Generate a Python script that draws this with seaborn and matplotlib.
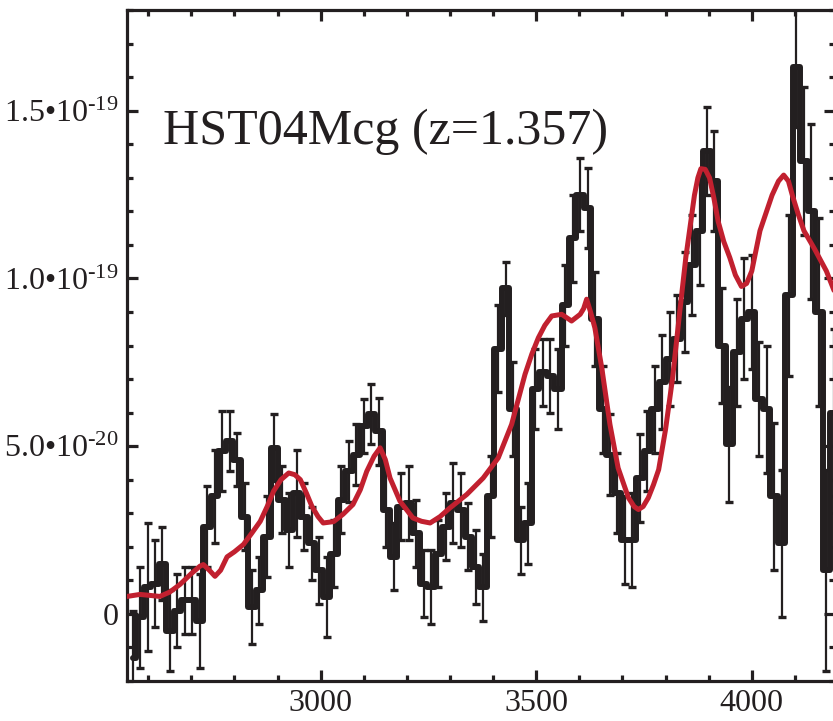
import numpy as np
import pandas as pd
import matplotlib
matplotlib.use("Agg")
import matplotlib.pyplot as plt
import seaborn as sns
from matplotlib.ticker import FixedLocator, MultipleLocator

# ---------------- data (flux in units of 1e-20) ----------------
wave = [2564.0, 2581.3, 2598.6, 2615.9, 2633.2, 2650.5, 2667.8, 2685.1, 2702.4, 2719.7,
        2737.0, 2754.3, 2771.6, 2788.9, 2806.2, 2823.5, 2840.8, 2858.1, 2875.4, 2892.7,
        2910.0, 2927.3, 2944.6, 2961.9, 2979.2, 2996.5, 3013.8, 3031.1, 3048.4, 3065.7,
        3083.0, 3100.3, 3117.6, 3134.9, 3152.2, 3169.5, 3186.8, 3204.1, 3221.4, 3238.7,
        3256.0, 3273.3, 3290.6, 3307.9, 3325.2, 3342.5, 3359.8, 3377.1, 3394.4, 3411.7,
        3429.0, 3446.3, 3463.6, 3480.9, 3498.2, 3515.5, 3532.8, 3550.1, 3567.4, 3584.7,
        3602.0, 3619.3, 3636.6, 3653.9, 3671.2, 3688.5, 3705.8, 3723.1, 3740.4, 3757.7,
        3775.0, 3792.3, 3809.6, 3826.9, 3844.2, 3861.5, 3878.8, 3896.1, 3913.4, 3930.7,
        3948.0, 3965.3, 3982.6, 3999.9, 4017.2, 4034.5, 4051.8, 4069.1, 4086.4, 4103.7,
        4121.0, 4138.3, 4155.6, 4172.9, 4190.2]

flux = [-1.3, -0.1, 0.8, 0.9, 1.5, -0.5, 0.1, 0.4, 0.4, -0.2,
        2.6, 3.5, 4.85, 5.15, 4.6, 2.9, 0.2, 0.7, 2.3, 4.95,
        3.4, 2.5, 3.6, 2.9, 2.1, 1.3, 0.5, 1.8, 3.4, 4.25,
        4.75, 5.6, 5.95, 5.45, 3.1, 1.7, 3.2, 3.3, 2.4, 0.9,
        0.8, 1.8, 2.6, 3.3, 3.1, 2.3, 1.4, 0.8, 3.5, 7.9,
        9.7, 6.1, 2.2, 2.7, 6.7, 7.2, 7.1, 6.7, 9.2, 11.2,
        12.5, 12.1, 8.8, 6.1, 4.75, 3.6, 2.2, 2.2, 4.05, 4.85,
        6.1, 6.9, 7.6, 8.2, 9.3, 10.4, 11.4, 13.8, 12.9, 8.0,
        5.05, 7.8, 8.8, 9.0, 6.4, 6.1, 3.5, 2.1, 9.5, 16.3,
        13.5, 12.0, 9.0, 1.3, 6.0]

flux_err = [1.4, 1.5, 1.9, 1.3, 1.1, 1.2, 1.1, 1.0, 1.0, 1.4,
            1.2, 1.4, 1.2, 0.9, 0.8, 1.0, 1.1, 1.0, 1.2, 1.0,
            1.0, 1.1, 1.3, 1.0, 1.1, 1.0, 1.2, 1.0, 1.0, 0.9,
            0.9, 0.8, 0.9, 1.0, 1.1, 1.0, 1.0, 1.1, 1.0, 1.0,
            1.1, 1.0, 1.0, 1.2, 1.1, 1.0, 1.1, 1.0, 1.2, 1.3,
            0.8, 1.4, 1.0, 1.2, 1.2, 1.0, 1.1, 1.2, 1.2, 1.3,
            1.1, 1.2, 1.4, 1.3, 1.2, 1.2, 1.3, 1.4, 1.3, 1.2,
            1.3, 1.4, 1.4, 1.3, 1.5, 1.5, 1.6, 1.3, 1.5, 1.7,
            1.7, 1.6, 1.8, 1.7, 1.7, 1.9, 2.2, 2.2, 2.4, 1.8,
            2.2, 2.6, 2.8, 3.0, 2.5]

model_wave = [2551, 2581, 2605, 2627, 2650, 2674, 2700, 2720, 2728, 2742,
              2755, 2768, 2783, 2800, 2821, 2840, 2860, 2876, 2891, 2908,
              2926, 2940, 2953, 2967, 2980, 2994, 3006, 3030, 3052, 3075,
              3092, 3107, 3124, 3138, 3150, 3161, 3184, 3214, 3234, 3254,
              3277, 3300, 3339, 3377, 3412, 3443, 3474, 3490, 3505, 3520,
              3536, 3559, 3582, 3602, 3610, 3617, 3626, 3636, 3652, 3671,
              3690, 3714, 3727, 3737, 3748, 3760, 3772, 3784, 3800, 3816,
              3832, 3847, 3867, 3875, 3882, 3892, 3902, 3912, 3922, 3935,
              3949, 3962, 3976, 3988, 4000, 4019, 4047, 4062, 4074, 4085,
              4094, 4108, 4121, 4145, 4173, 4195]
model_flux = [0.52, 0.58, 0.55, 0.52, 0.65, 0.88, 1.2, 1.42, 1.47, 1.3,
              1.12, 1.3, 1.7, 1.85, 2.07, 2.4, 2.76, 3.2, 3.66, 4.0,
              4.2, 4.15, 4.0, 3.6, 3.2, 2.9, 2.71, 2.75, 2.97, 3.26,
              3.7, 4.25, 4.7, 4.95, 4.6, 4.05, 3.36, 2.86, 2.76, 2.71,
              2.9, 3.16, 3.56, 4.05, 4.65, 5.65, 7.14, 7.75, 8.23, 8.6,
              8.88, 8.93, 8.73, 8.93, 9.1, 9.38, 9.0, 8.53, 7.34, 5.65,
              4.35, 3.46, 3.2, 3.11, 3.2, 3.46, 3.85, 4.3, 5.5, 7.0,
              8.9, 10.62, 12.48, 13.0, 13.27, 13.25, 13.0, 12.4, 11.7, 11.1,
              10.62, 10.1, 9.76, 9.85, 10.22, 11.42, 12.48, 12.9, 13.08, 12.9,
              12.48, 11.9, 11.42, 10.89, 10.22, 9.5]

label_text = "HST04Mcg (z=1.357)"
x_major = [3000, 3500, 4000]
x_major_labels = ["3000", "3500", "4000"]
y_major = [0, 5, 10, 15]
y_major_labels = ["0", "5.0\u202210$^{\\text{-20}}$", "1.0\u202210$^{\\text{-19}}$",
                  "1.5\u202210$^{\\text{-19}}$"]

# ---------------- style ----------------
sns.set_style("white")
plt.rcParams["font.family"] = ["Liberation Serif", "DejaVu Serif"]
plt.rcParams["mathtext.fontset"] = "custom"
plt.rcParams["mathtext.rm"] = "Liberation Serif"
plt.rcParams["mathtext.it"] = "Liberation Serif:italic"
plt.rcParams["mathtext.bf"] = "Liberation Serif:bold"

BLACK = "#231f20"
RED = "#c1202f"

fig = plt.figure(figsize=(8.33, 7.21), dpi=100)
ax = fig.add_axes([0.1525, 0.0555, 0.8499, 0.9306])

spec = pd.DataFrame({"wave": wave, "flux": flux, "err": flux_err})
model = pd.DataFrame({"wave": model_wave, "flux": model_flux})

ax.errorbar(spec["wave"], spec["flux"], yerr=spec["err"], fmt="none",
            ecolor=BLACK, elinewidth=1.6, capsize=2.6, capthick=2.4, zorder=2)
sns.lineplot(data=spec, x="wave", y="flux", ax=ax, color=BLACK, lw=4.3,
             drawstyle="steps-mid", estimator=None, sort=False, zorder=3)
sns.lineplot(data=model, x="wave", y="flux", ax=ax, color=RED, lw=3.6,
             estimator=None, sort=False, zorder=4)

ax.set_xlim(2551, 4193)
ax.set_ylim(-2.0, 18.0)
ax.set_xlabel("")
ax.set_ylabel("")

ax.xaxis.set_major_locator(FixedLocator(x_major))
ax.xaxis.set_minor_locator(MultipleLocator(100))
ax.set_xticklabels(x_major_labels)
ax.yaxis.set_major_locator(FixedLocator(y_major))
ax.yaxis.set_minor_locator(MultipleLocator(1))
ax.set_yticklabels(y_major_labels)

for s in ax.spines.values():
    s.set_visible(True)
    s.set_linewidth(2.3)
    s.set_color(BLACK)

ax.tick_params(which="both", direction="in", top=True, right=True,
               bottom=True, left=True, color=BLACK, width=2.3)
ax.tick_params(which="major", length=8, labelsize=23, labelcolor=BLACK)
ax.tick_params(which="minor", length=4)
ax.tick_params(axis="x", which="major", pad=6)
ax.tick_params(axis="y", which="major", pad=6)

ax.text(0.051, 0.80, label_text, transform=ax.transAxes, fontsize=36,
        color=BLACK, ha="left", va="baseline")

fig.savefig("out.png", dpi=100)
